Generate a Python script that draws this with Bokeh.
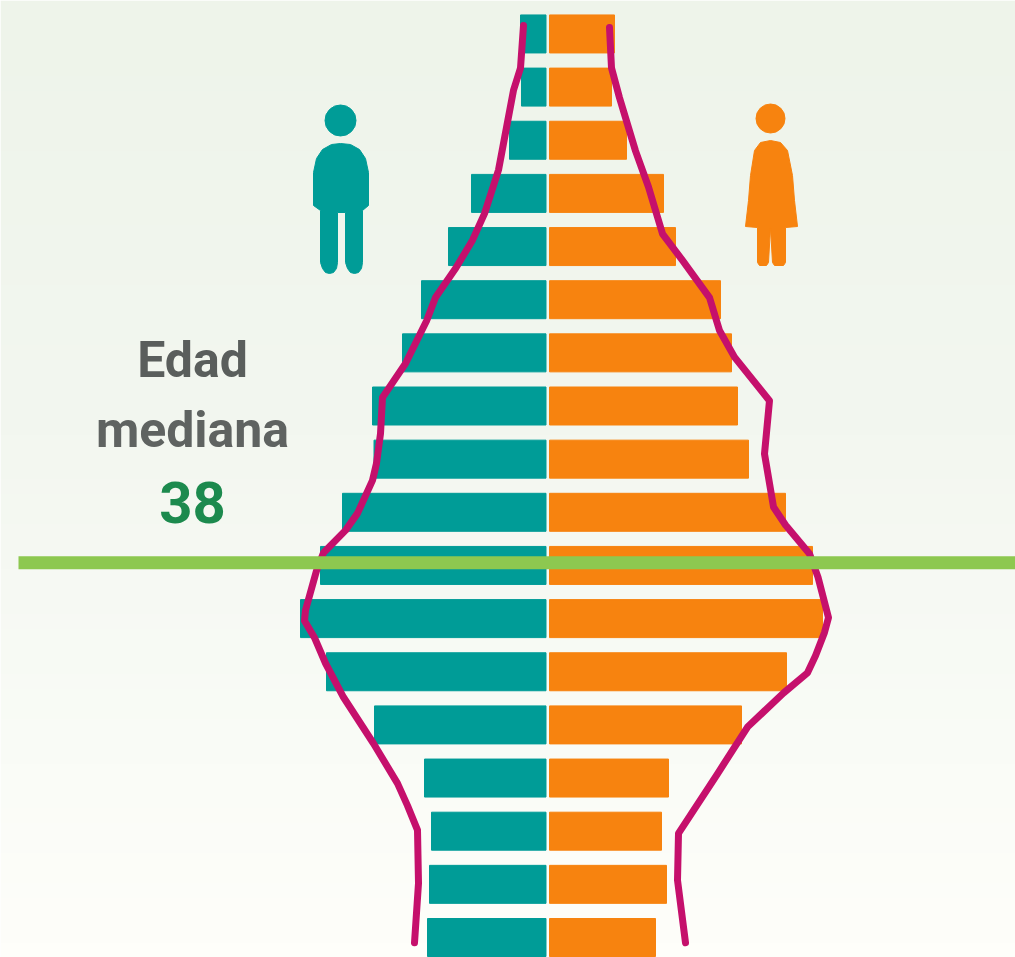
import numpy as np
from bokeh.embed import file_html
from bokeh.models import ColumnDataSource, Range1d
from bokeh.plotting import figure
from bokeh.resources import INLINE
from bokeh.core.properties import value

# Age groups (centre of each five-year group), youngest first
group_age = [2.5, 7.5, 12.5, 17.5, 22.5, 27.5, 32.5, 37.5, 42.5, 47.5, 52.5, 57.5,
             62.5, 67.5, 72.5, 77.5, 82.5, 87.5]
men = [120, 118, 116, 123, 173, 221, 247, 227, 205, 173.5, 175, 145, 126, 99, 76, 38, 26, 27]
women = [108, 119, 114, 121, 194, 239, 275, 265, 238, 201, 190, 184, 173, 128, 116, 79, 64, 67]

# Comparison profile (outline) for each sex
men_line_x = [24, 27, 34, 41, 49, 63, 75, 91.5, 112, 121, 142, 165, 167, 171, 175, 190, 202, 224, 231,
              242, 243, 233, 222, 204, 174, 150, 140, 130, 129, 133]
men_line_age = [88.3, 84.3, 82.2, 78.7, 74.7, 70.6, 68.1, 65.5, 62.7, 60.5, 56.5, 53.3, 49.9,
                47.1, 45.5, 42.4, 40.8, 38.7, 37.0, 33.3, 32.3, 30.7, 28.3, 25.1, 20.75, 17.0, 14.9,
                12.6, 7.6, 2.0]
women_line_x = [62, 64, 72, 88, 101, 115, 135, 162, 172, 187, 222, 217, 226, 238, 262, 270.5, 281,
                277, 268, 260, 236, 200, 170, 131, 130, 138]
women_line_age = [88.1, 84.3, 81.5, 76.5, 73.1, 68.7, 66.2, 62.7, 59.6, 57.1, 53.0, 48.0, 43.0,
                  41.3, 38.6, 36.4, 32.6, 31.2, 29.0, 27.4, 25.5, 22.3, 17.9, 12.3, 7.9, 2.0]

median_age = 37.75
median_label = "38"

TEAL, ORANGE, CRIMSON, GREEN = "#009c97", "#f7830f", "#c5106c", "#8dc850"
W, H = 1015, 957
CX, Y0, PX_PER_YEAR = 547, 937, 53.15 / 5


def X(px):
    return np.asarray(px, dtype=float) - CX


def Y(py):
    return 2.5 + (Y0 - np.asarray(py, dtype=float)) / PX_PER_YEAR


p = figure(width=W, height=H, output_backend="svg", toolbar_location=None,
           x_range=Range1d(float(X(0)), float(X(W))),
           y_range=Range1d(float(Y(H)), float(Y(0))),
           min_border=0, outline_line_color=None, x_axis_location=None, y_axis_location=None)
p.grid.visible = False

# Background gradient
stops_y = [0, 0.45, 0.8, 1]
stops_c = [(238, 244, 234), (243, 247, 240), (250, 252, 247), (254, 254, 250)]
t = np.linspace(0, 1, 64)
img = np.zeros((64, 1), dtype=np.uint32)
view = img.view(dtype=np.uint8).reshape((64, 1, 4))
for c in range(3):
    view[:, 0, c] = np.interp(1 - t, stops_y, [s[c] for s in stops_c])
view[:, 0, 3] = 255
p.image_rgba(image=[img], x=float(X(0)), y=float(Y(H)), dw=float(W), dh=float(H / PX_PER_YEAR))

bar_h = 38 / PX_PER_YEAR
src = ColumnDataSource(dict(age=group_age, m=[-v for v in men], w=women))
p.hbar(y="age", left="m", right=-1.5, height=bar_h, color=TEAL, source=src)
p.hbar(y="age", left=2, right="w", height=bar_h, color=ORANGE, source=src)

p.line([-v for v in men_line_x], men_line_age, color=CRIMSON, line_width=7,
       line_join="round", line_cap="round")
p.line(women_line_x, women_line_age, color=CRIMSON, line_width=7,
       line_join="round", line_cap="round")

# Median line
p.line([float(X(18)), float(X(W))], [median_age, median_age], color=GREEN, line_width=13)

# Man icon
p.circle(x=[float(X(340))], y=[float(Y(120))], radius=15.5, color=TEAL)
p.patch(X([340, 350, 359, 365, 368, 368, 362, 362, 361, 358, 354, 350, 347, 345, 345, 337, 337, 336, 333,
           329, 325, 322, 320, 320, 313, 313, 316, 322, 331]),
        Y([143, 144, 149, 158, 172, 205, 210, 262, 268, 272, 273, 272, 268, 262, 212, 212, 262, 268, 272,
           273, 272, 268, 262, 210, 205, 172, 158, 149, 144]), color=TEAL)

# Woman icon
p.circle(x=[float(X(770))], y=[float(Y(118))], radius=14.5, color=ORANGE)
p.patch(X([770, 780, 787, 792, 794, 797, 785, 785, 783, 774, 772, 770, 768, 766, 759, 757, 757, 745, 748,
           750, 754, 760]),
        Y([140, 142, 150, 175, 200, 226, 227, 262, 265, 265, 262, 227, 262, 265, 265, 262, 227, 226, 200,
           175, 150, 142]), color=ORANGE)

# Labels
FONT = value("Roboto")
p.text(x=[float(X(192))], y=[float(Y(359))], text=["Edad"], text_font=FONT, text_font_size="50px",
       text_font_style="bold", text_color="#5a5e5c", text_align="center", text_baseline="alphabetic")
p.text(x=[float(X(192))], y=[float(Y(429))], text=["mediana"], text_font=FONT, text_font_size="50px",
       text_font_style="bold", text_color="#5f6361", text_align="center", text_baseline="alphabetic")
p.text(x=[float(X(192))], y=[float(Y(502))], text=[median_label], text_font=FONT, text_font_size="58px",
       text_font_style="bold", text_color="#1c8a4e", text_align="center", text_baseline="alphabetic")

open("out.html", "w").write(file_html(p, INLINE))
